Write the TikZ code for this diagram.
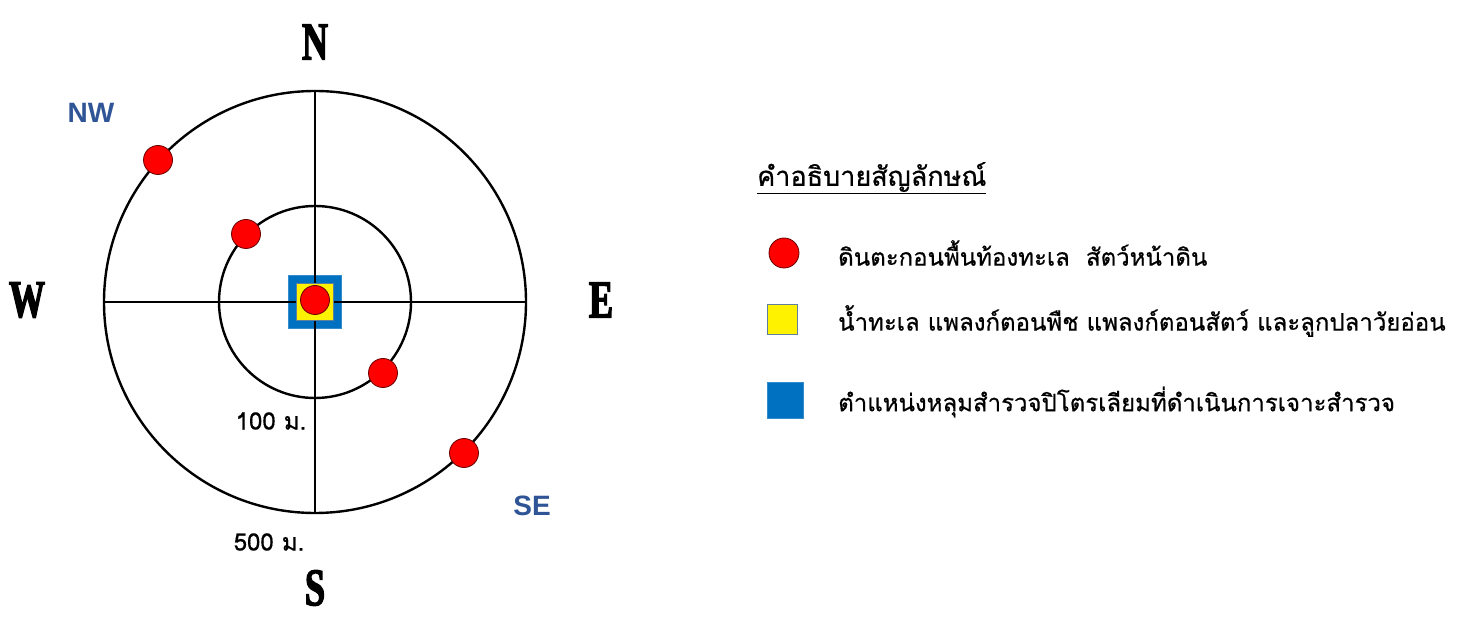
\documentclass[tikz,border=0pt]{standalone}
\usepackage{fontspec}
\setmainfont{Liberation Sans}
\newfontfamily\thaifont[Script=Thai,FakeBold=0.6]{Loma}
\newfontfamily\compassfont[FakeStretch=0.68,BoldFeatures={FakeBold=2.5}]{Liberation Serif}
\definecolor{dotred}{HTML}{FF0000}
\definecolor{holeblue}{HTML}{0070C0}
\definecolor{dirblue}{HTML}{2F5597}
\definecolor{sqborder}{HTML}{5F7F9F}
\begin{document}
\begin{tikzpicture}[x=1pt,y=-1pt,
  ring/.style={draw=black, line width=2.4pt},
  dot/.style={circle, fill=dotred, draw=black!60!red, line width=0.8pt, minimum size=29pt, inner sep=0pt},
  compass/.style={font=\compassfont\bfseries\fontsize{53}{53}\selectfont, inner sep=0pt},
  dirlabel/.style={font=\bfseries\fontsize{28}{28}\selectfont, text=dirblue, inner sep=0pt},
  dist/.style={font=\thaifont\fontsize{24}{24}\selectfont, inner sep=0pt},
  legtext/.style={font=\thaifont\fontsize{24}{24}\selectfont, anchor=west, inner sep=0pt},
  bluesq/.style={fill=holeblue, draw=holeblue!80!white, line width=0.6pt, minimum size=#1, inner sep=0pt},
  yellowsq/.style={fill=yellow, draw=sqborder, line width=1pt, minimum size=#1, inner sep=0pt}
]
\useasboundingbox[fill=white] (0,0) rectangle (1467,617);
% centre
\coordinate (c) at (315,302);
% rings
\draw[ring] (c) circle[radius=211];
\draw[ring] (c) circle[radius=96];
% blue hole square
\node[bluesq=53pt] (hole) at (315,302) {};
% cross
\draw[ring] (104,302) -- (526,302);
\draw[ring] (315,91) -- (315,513);
% yellow square and central dot
\node[yellowsq=37pt] (water) at (315,302) {};
\node[dot] (d0) at (315,300) {};
% dots on rings
\node[dot] (d1) at (158,160) {};
\node[dot] (d2) at (246,234) {};
\node[dot] (d3) at (383,373) {};
\node[dot] (d4) at (464,453) {};
% compass letters
\node[compass] (N) at (315,42) {N};
\node[compass] (S) at (315,588) {S};
\node[compass] (W) at (27,300) {W};
\node[compass] (E) at (601,300) {E};
\node[dirlabel] (NW) at (91,113) {NW};
\node[dirlabel] (SE) at (532,506) {SE};
% distances
\node[dist] (d100) at (271,421) {100 ม.};
\node[dist] (d500) at (269,542) {500 ม.};
% legend
\node[legtext, font=\thaifont\fontsize{27}{27}\selectfont] (title) at (757,178) {\underline{คำอธิบายสัญลักษณ์}};
\node[dot, minimum size=30pt] (l1) at (784,253) {};
\node[yellowsq=30pt] (l2) at (782,320) {};
\node[bluesq=36pt] (l3) at (785,400) {};
\node[legtext] (t1) at (838,253) {ดินตะกอนพื้นท้องทะเล\ \ สัตว์หน้าดิน};
\node[legtext] (t2) at (838,321) {น้ำทะเล แพลงก์ตอนพืช แพลงก์ตอนสัตว์ และลูกปลาวัยอ่อน};
\node[legtext] (t3) at (838,402) {ตำแหน่งหลุมสำรวจปิโตรเลียมที่ดำเนินการเจาะสำรวจ};
\end{tikzpicture}
\end{document}
